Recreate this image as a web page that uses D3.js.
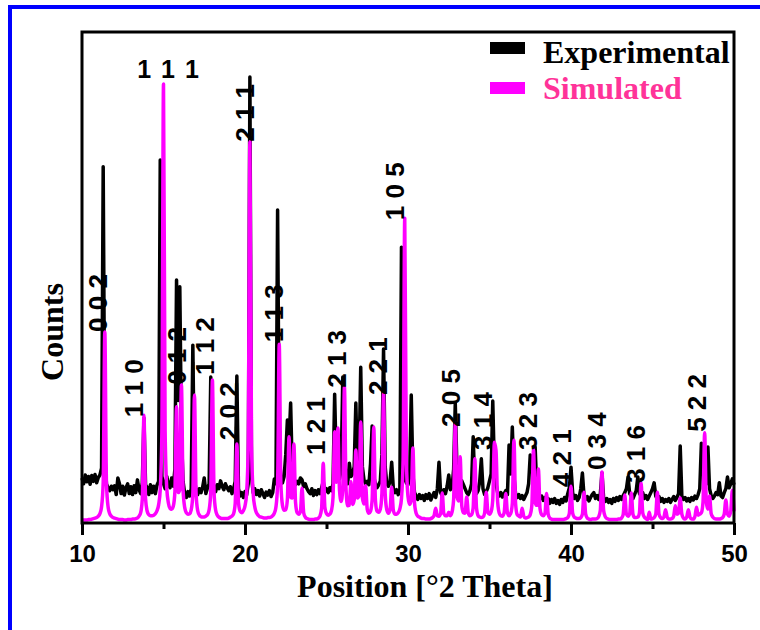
<!DOCTYPE html>
<html lang="en">
<head>
  <meta charset="UTF-8">
  <title>XRD pattern: experimental vs simulated</title>
  <script src="https://d3js.org/d3.v7.min.js"></script>
  <style>
    body { margin: 0; background: #fff; }
    svg { display: block; }
    .serif { font-family: "Liberation Serif", "Times New Roman", serif; font-weight: bold; }
    .sans { font-family: "Liberation Sans", Arial, sans-serif; font-weight: bold; }
  </style>
</head>
<body>
  <svg width="760" height="630"></svg>
  <script>
    // 2theta grid, 0.1 degree steps from 10 to 50
    const twoTheta = d3.range(0, 401).map(i => 10 + i / 10);

    // experimental counts, one row per degree (10.0 .. 10.9, 11.0 .. 11.9, ...)
    const expCounts = [
      92, 80, 98, 84, 95, 79, 97, 85, 99, 82,
      93, 98, 112, 727, 140, 80, 72, 66, 75, 68,
      76, 58, 92, 80, 60, 75, 57, 72, 80, 60,
      74, 58, 76, 62, 88, 68, 60, 82, 214, 78,
      72, 58, 78, 62, 75, 60, 77, 85, 741, 95,
      80, 70, 95, 78, 72, 92, 75, 110, 496, 250,
      482, 180, 85, 60, 52, 64, 55, 70, 363, 90,
      66, 58, 70, 62, 73, 92, 60, 72, 80, 298,
      95, 72, 64, 78, 70, 86, 75, 68, 80, 72,
      66, 74, 60, 70, 85, 300, 70, 55, 62, 52,
      64, 57, 80, 910, 95, 62, 70, 58, 66, 55,
      68, 60, 52, 63, 57, 66, 54, 62, 90, 80,
      639, 150, 90, 82, 95, 140, 210, 163, 245, 105,
      90, 78, 85, 80, 92, 88, 74, 80, 70, 64,
      60, 70, 56, 66, 58, 68, 60, 72, 85, 64,
      70, 62, 72, 66, 80, 263, 120, 100, 90, 110,
      298, 130, 92, 80, 122, 95, 100, 115, 245, 105,
      130, 318, 115, 88, 80, 85, 78, 120, 198, 95,
      80, 72, 78, 85, 140, 355, 115, 80, 75, 85,
      124, 70, 62, 68, 58, 66, 563, 120, 90, 82,
      78, 95, 261, 100, 62, 55, 48, 58, 50, 56,
      46, 58, 50, 60, 47, 55, 62, 52, 70, 124,
      62, 55, 68, 60, 75, 98, 68, 72, 110, 245,
      115, 92, 80, 86, 78, 70, 62, 58, 66, 80,
      176, 72, 60, 66, 85, 131, 70, 58, 64, 72,
      86, 100, 249, 110, 80, 62, 55, 62, 53, 60,
      66, 58, 159, 100, 196, 95, 60, 52, 58, 50,
      56, 48, 55, 62, 80, 139, 105, 100, 155, 70,
      58, 50, 55, 46, 52, 44, 50, 40, 48, 42,
      50, 40, 46, 38, 48, 42, 52, 45, 60, 72,
      114, 62, 50, 56, 46, 52, 70, 102, 55, 48,
      54, 45, 52, 58, 62, 50, 56, 48, 60, 102,
      52, 44, 50, 42, 48, 40, 50, 44, 52, 46,
      54, 48, 56, 62, 70, 94, 60, 55, 50, 58,
      66, 94, 60, 55, 62, 50, 56, 48, 55, 62,
      70, 82, 55, 48, 54, 44, 50, 42, 48, 44,
      50, 42, 48, 54, 46, 52, 60, 157, 55, 48,
      52, 45, 50, 44, 52, 47, 55, 50, 58, 70,
      163, 100, 110, 80, 155, 70, 56, 50, 55, 62,
      58, 82, 55, 52, 62, 70, 94, 72, 80, 90,
      78
    ];

    // simulated counts on the same grid
    const simCounts = [
      6, 6, 6, 6, 7, 7, 8, 9, 10, 11,
      14, 19, 33, 83, 390, 83, 33, 19, 14, 11,
      10, 9, 8, 7, 7, 7, 6, 6, 7, 7,
      7, 8, 8, 9, 10, 14, 21, 49, 220, 49,
      24, 17, 15, 15, 16, 19, 25, 37, 68, 185,
      896, 187, 71, 41, 30, 28, 34, 64, 237, 62,
      68, 282, 69, 32, 21, 18, 19, 27, 59, 261,
      59, 25, 16, 13, 12, 12, 14, 17, 27, 64,
      292, 63, 26, 16, 12, 10, 9, 9, 9, 9,
      10, 12, 14, 19, 40, 161, 42, 24, 21, 25,
      35, 61, 161, 778, 161, 61, 33, 21, 16, 13,
      12, 11, 10, 10, 11, 11, 12, 15, 20, 33,
      80, 365, 81, 36, 26, 27, 48, 176, 53, 51,
      161, 42, 21, 18, 23, 71, 21, 12, 9, 8,
      7, 7, 7, 8, 8, 10, 14, 30, 122, 32,
      19, 16, 18, 25, 52, 186, 83, 194, 66, 44,
      71, 278, 68, 35, 36, 84, 38, 47, 149, 51,
      56, 206, 52, 39, 76, 28, 20, 24, 47, 196,
      47, 24, 22, 28, 61, 267, 60, 27, 20, 27,
      73, 26, 18, 18, 21, 29, 50, 130, 622, 132,
      54, 38, 47, 153, 41, 20, 14, 12, 10, 9,
      9, 8, 8, 8, 9, 11, 15, 30, 15, 14,
      19, 61, 19, 15, 15, 22, 15, 22, 48, 204,
      55, 45, 135, 35, 21, 20, 53, 20, 15, 17,
      32, 131, 32, 15, 12, 11, 12, 20, 63, 22,
      18, 23, 47, 165, 148, 43, 20, 15, 14, 21,
      60, 21, 15, 19, 40, 169, 40, 17, 14, 12,
      30, 14, 10, 11, 12, 17, 37, 150, 42, 36,
      110, 29, 17, 15, 19, 60, 18, 10, 8, 7,
      7, 7, 7, 7, 7, 7, 8, 9, 11, 20,
      75, 20, 12, 10, 9, 9, 11, 18, 63, 18,
      10, 8, 7, 8, 8, 8, 9, 13, 26, 104,
      26, 13, 9, 8, 7, 7, 7, 7, 7, 8,
      8, 10, 17, 57, 18, 14, 19, 61, 18, 11,
      11, 12, 21, 82, 21, 12, 9, 7, 22, 8,
      9, 11, 18, 63, 18, 11, 9, 12, 27, 12,
      8, 8, 9, 14, 35, 18, 20, 51, 18, 10,
      8, 12, 27, 12, 8, 8, 13, 32, 16, 18,
      21, 43, 184, 43, 28, 55, 19, 12, 9, 8,
      8, 8, 9, 11, 18, 47, 18, 14, 24, 67,
      24
    ];

    // Miller index labels: [h, k, l, 2theta, counts at label start]; "-1" means 1 with a bar
    const hklLabels = [
      ["0", "0", "2", 10.98, 390],
      ["1", "1", "0", 13.19, 216],
      ["0", "1", "2", 15.83, 282],
      ["-1", "1", "2", 17.55, 302],
      ["2", "0", "2", 19.02, 169],
      ["2", "1", "1", 20.0, 778],
      ["1", "1", "3", 21.78, 369],
      ["1", "2", "1", 24.36, 139],
      ["2", "1", "3", 25.64, 276],
      ["2", "2", "1", 28.16, 261],
      ["1", "0", "5", 29.2, 618],
      ["2", "0", "5", 32.64, 196],
      ["3", "1", "4", 34.6, 149],
      ["3", "2", "3", 37.36, 149],
      ["4", "2", "1", 39.45, 73],
      ["0", "3", "4", 41.6, 108],
      ["3", "1", "6", 43.99, 82],
      ["5", "2", "2", 47.73, 186]
    ];
    const topLabel = ["1", "1", "1", 15.28, 908];

    const majorTicks = [10, 20, 30, 40, 50];
    const minorTicks = [15, 25, 35, 45];

    const series = [
      { name: "Experimental", values: expCounts, color: "#000000", text: "#000000" },
      { name: "Simulated", values: simCounts, color: "#ff00ff", text: "#ff3399" }
    ];

    const svg = d3.select("svg");

    const x = d3.scaleLinear().domain([10, 50]).range([82, 734]);
    const y = d3.scaleLinear().domain([0, 1000]).range([523, 33]);

    // blue outer frame (runs off the right and bottom edges)
    svg.append("rect")
      .attr("x", 10).attr("y", 7)
      .attr("width", 800).attr("height", 700)
      .attr("fill", "none")
      .attr("stroke", "#0000ff")
      .attr("stroke-width", 4);

    // curves
    const expLine = d3.line()
      .x((d, i) => x(twoTheta[i]))
      .y(d => y(d));
    const simLine = d3.line()
      .x((d, i) => x(twoTheta[i]))
      .y(d => y(d))
      .curve(d3.curveMonotoneX);

    svg.append("path")
      .attr("d", expLine(expCounts))
      .attr("fill", "none")
      .attr("stroke", series[0].color)
      .attr("stroke-width", 3.5)
      .attr("stroke-linejoin", "round");

    svg.append("path")
      .attr("d", simLine(simCounts))
      .attr("fill", "none")
      .attr("stroke", series[1].color)
      .attr("stroke-width", 3.5)
      .attr("stroke-linejoin", "round");

    // plot box
    svg.append("rect")
      .attr("x", x(10)).attr("y", 32)
      .attr("width", x(50) - x(10)).attr("height", 523 - 32)
      .attr("fill", "none")
      .attr("stroke", "#000")
      .attr("stroke-width", 3);

    // x axis
    const gx = svg.append("g")
      .attr("transform", "translate(0,523)")
      .call(d3.axisBottom(x).tickValues(majorTicks).tickSize(12).tickSizeOuter(0).tickPadding(10));
    gx.select(".domain").remove();
    gx.selectAll(".tick line").attr("stroke", "#000").attr("stroke-width", 3);
    gx.selectAll(".tick text")
      .attr("class", "sans")
      .attr("font-size", 24)
      .attr("fill", "#000");

    const gm = svg.append("g")
      .attr("transform", "translate(0,523)")
      .call(d3.axisBottom(x).tickValues(minorTicks).tickSize(6).tickSizeOuter(0).tickFormat(""));
    gm.select(".domain").remove();
    gm.selectAll(".tick line").attr("stroke", "#000").attr("stroke-width", 3);

    // axis titles
    svg.append("text")
      .attr("class", "serif")
      .attr("x", 425).attr("y", 597)
      .attr("text-anchor", "middle")
      .attr("font-size", 32)
      .text("Position [°2 Theta]");

    svg.append("text")
      .attr("class", "serif")
      .attr("transform", "translate(63,332) rotate(-90)")
      .attr("text-anchor", "middle")
      .attr("font-size", 32)
      .text("Counts");

    // hkl labels, rotated, one tspan per index
    hklLabels.forEach(d => {
      const g = svg.append("g")
        .attr("transform", `translate(${x(d[3])},${y(d[4])}) rotate(-90)`);
      const t = g.append("text")
        .attr("class", "sans")
        .attr("font-size", 26)
        .attr("fill", "#000")
        .attr("dy", "0.36em");
      d.slice(0, 3).forEach((v, i) => {
        t.append("tspan").text((i > 0 ? " " : "") + v.replace("-", ""));
      });
      // bar over a negative index (only the first one is negative here)
      if (d[0].startsWith("-")) {
        g.append("line")
          .attr("x1", 1).attr("x2", 13)
          .attr("y1", -12).attr("y2", -12)
          .attr("stroke", "#000")
          .attr("stroke-width", 2.5);
      }
    });

    const topText = svg.append("text")
      .attr("class", "sans")
      .attr("font-size", 25)
      .attr("word-spacing", 3)
      .attr("x", x(topLabel[3])).attr("y", y(topLabel[4]))
      .attr("text-anchor", "middle");
    topLabel.slice(0, 3).forEach((v, i) => {
      topText.append("tspan").text((i > 0 ? " " : "") + v);
    });

    // legend
    const legend = svg.append("g");
    series.forEach((s, i) => {
      legend.append("rect")
        .attr("x", 490).attr("y", 42 + i * 40)
        .attr("width", 35).attr("height", 12)
        .attr("fill", s.color);
      legend.append("text")
        .attr("class", "serif")
        .attr("x", 543).attr("y", 63 + i * 36)
        .attr("font-size", 32)
        .attr("fill", s.text)
        .text(s.name);
    });
  </script>
</body>
</html>
